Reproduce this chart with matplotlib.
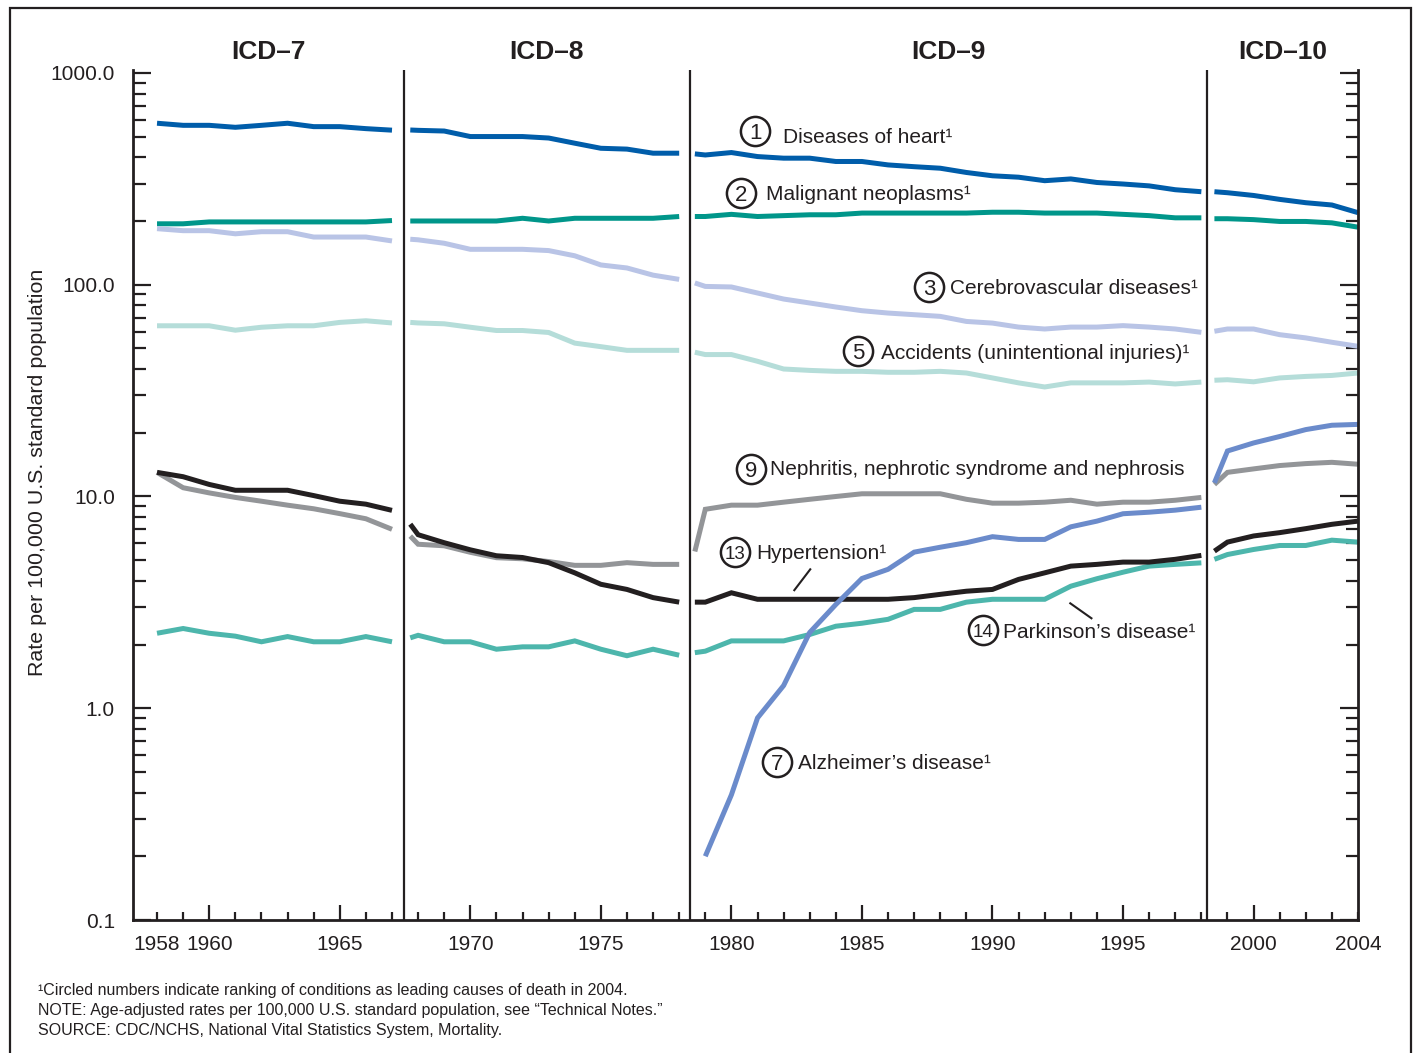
import numpy as np
import matplotlib
matplotlib.use('Agg')
import matplotlib.pyplot as plt
from matplotlib.ticker import FixedLocator, FuncFormatter, NullFormatter

plt.rcParams['font.family'] = ['Liberation Sans', 'DejaVu Sans']

# where the ICD coding revisions change
icd_breaks = [1967.45, 1978.4, 1998.2]
icd_names = ['ICD–7', 'ICD–8', 'ICD–9', 'ICD–10']

# years in each revision; later revisions pick up just after the break
years_icd7 = list(range(1958, 1968))
years_icd8 = [1967.7] + list(range(1968, 1979))
years_icd9 = [1978.6] + list(range(1979, 1999))
years_icd10 = [1998.5] + list(range(1999, 2005))
seg_years = [years_icd7, years_icd8, years_icd9, years_icd10]

nan = np.nan

# age-adjusted death rates, one list per revision
heart = [
    [579, 566, 566, 554, 566, 579, 558, 558, 546, 537],
    [538, 536, 532, 501, 501, 501, 493, 466, 441, 437, 418, 418],
    [415, 410, 421, 403, 396, 396, 382, 382, 368, 361, 355, 339, 327, 322, 310, 316, 304, 299, 293, 281, 275],
    [275, 272, 264, 253, 244, 238, 219],
]
cancer = [
    [194, 194, 198, 198, 198, 198, 198, 198, 198, 201],
    [200, 200, 200, 200, 200, 206, 200, 206, 206, 206, 206, 210],
    [210, 210, 215, 210, 212, 214, 214, 218, 218, 218, 218, 218, 220, 220, 218, 218, 218, 215, 212, 207, 207],
    [205, 205, 203, 199, 199, 196, 187],
]
stroke = [
    [184, 180, 180, 174, 178, 178, 168, 168, 168, 161],
    [164, 163, 157, 147, 147, 147, 145, 137, 124, 120, 111, 106],
    [102, 98.2, 97.6, 91.4, 85.6, 82, 78.5, 75.4, 73.5, 72.2, 70.9, 67.1, 65.9, 63.1, 61.8, 63.1, 63.1, 64.1, 63.1, 61.8, 59.6],
    [60.3, 61.8, 61.8, 58.1, 56.1, 53.5, 51.2],
]
accidents = [
    [64, 64, 64, 61, 63, 64, 64, 66.4, 67.6, 66],
    [66.4, 66, 65.4, 63, 60.8, 60.8, 59.5, 53, 51, 49, 49, 49],
    [48, 46.8, 46.8, 43.5, 40, 39.4, 39, 39, 38.6, 38.6, 39, 38.3, 36.3, 34.4, 32.9, 34.4, 34.4, 34.4, 34.7, 34, 34.7],
    [35.4, 35.6, 34.8, 36.3, 36.9, 37.3, 38.3],
]
nephritis = [
    [13.0, 11.0, 10.4, 9.9, 9.5, 9.1, 8.75, 8.3, 7.85, 7.0],
    [6.5, 5.95, 5.85, 5.45, 5.14, 5.08, 4.93, 4.73, 4.73, 4.87, 4.78, 4.78],
    [5.5, 8.7, 9.1, 9.1, 9.4, 9.7, 10.0, 10.3, 10.3, 10.3, 10.3, 9.7, 9.3, 9.3, 9.4, 9.6, 9.2, 9.4, 9.4, 9.6, 9.9],
    [11.4, 13.0, 13.5, 14.0, 14.3, 14.5, 14.2],
]
parkinson = [
    [2.26, 2.38, 2.26, 2.19, 2.06, 2.18, 2.06, 2.06, 2.18, 2.06],
    [2.15, 2.21, 2.06, 2.06, 1.90, 1.95, 1.95, 2.08, 1.90, 1.77, 1.90, 1.78],
    [1.83, 1.86, 2.08, 2.08, 2.08, 2.23, 2.44, 2.52, 2.63, 2.93, 2.93, 3.17, 3.27, 3.27, 3.27, 3.77, 4.09, 4.39, 4.69, 4.78, 4.86],
    [5.05, 5.32, 5.62, 5.87, 5.87, 6.22, 6.09],
]
hypertension = [
    [13.0, 12.4, 11.4, 10.7, 10.7, 10.7, 10.1, 9.5, 9.2, 8.6],
    [7.4, 6.6, 6.05, 5.6, 5.25, 5.15, 4.87, 4.36, 3.85, 3.64, 3.33, 3.17],
    [3.17, 3.17, 3.51, 3.27, 3.27, 3.27, 3.27, 3.27, 3.27, 3.33, 3.45, 3.57, 3.64, 4.06, 4.36, 4.69, 4.78, 4.9, 4.9, 5.05, 5.27],
    [5.52, 6.09, 6.51, 6.75, 7.05, 7.39, 7.65],
]
alzheimer = [
    None,
    None,
    [nan, 0.2, 0.39, 0.9, 1.28, 2.28, 3.09, 4.1, 4.53, 5.46, 5.76, 6.05, 6.46, 6.27, 6.27, 7.19, 7.65, 8.29, 8.43, 8.62, 8.9],
    [11.6, 16.4, 17.9, 19.2, 20.7, 21.7, 21.9],
]

series = [heart, cancer, stroke, accidents, nephritis, parkinson, hypertension, alzheimer]
colors = ['#005DAA', '#00968A', '#B9C4E6', '#B5DDD9', '#939598', '#4DB6AC', '#231F20', '#6B8BCB']

# circled rank, label, circle position, text position
labels = [
    ('1', 'Diseases of heart¹', (1980.91, 532), (1981.98, 494)),
    ('2', 'Malignant neoplasms¹', (1980.38, 272), (1981.33, 268)),
    ('3', 'Cerebrovascular diseases¹', (1987.58, 97.9), (1988.38, 95.7)),
    ('5', 'Accidents (unintentional injuries)¹', (1984.86, 48.9), (1985.74, 47.3)),
    ('9', 'Nephritis, nephrotic syndrome and nephrosis', (1980.76, 13.55), (1981.49, 13.4)),
    ('13', 'Hypertension¹', (1980.15, 5.44), (1980.95, 5.38)),
    ('14', 'Parkinson’s disease¹', (1989.65, 2.33), (1990.41, 2.28)),
    ('7', 'Alzheimer’s disease¹', (1981.75, 0.556), (1982.56, 0.55)),
]
leaders = [((1983.02, 4.53), (1982.41, 3.61)), ((1992.98, 3.13), (1993.79, 2.66))]

fig = plt.figure(figsize=(14.21, 10.53), dpi=100)
ax = fig.add_axes([133/1421, 1 - 920/1053, 1225/1421, 850/1053])

for vals, color in zip(series, colors):
    for yrs, v in zip(seg_years, vals):
        if v is None:
            continue
        ax.plot(yrs, v, color=color, lw=3.6, solid_capstyle='butt', solid_joinstyle='miter')

for b in icd_breaks:
    ax.axvline(b, color='#231F20', lw=1.6)

ax.set_yscale('log')
ax.set_xlim(1957.08, 2004)
ax.set_ylim(0.1, 1033)

edges = [1957.08] + icd_breaks + [2004]
for i, name in enumerate(icd_names):
    ax.text((edges[i] + edges[i+1]) / 2, 1.021, name, transform=ax.get_xaxis_transform(),
            ha='center', va='center', fontsize=19, fontweight='bold', color='#231F20')

for num, text, cpos, tpos in labels:
    ax.plot(*cpos, 'o', ms=21, mfc='white', mec='#231F20', mew=1.8)
    ax.text(*cpos, num, ha='center', va='center_baseline', fontsize=16 if len(num) == 1 else 13.5,
            color='#231F20')
    ax.text(*tpos, text, ha='left', va='center', fontsize=15, color='#231F20')
for p0, p1 in leaders:
    ax.plot([p0[0], p1[0]], [p0[1], p1[1]], color='#231F20', lw=1.5)

# axes styling
for side in ['left', 'bottom', 'right']:
    ax.spines[side].set_linewidth(2)
    ax.spines[side].set_color('#231F20')
ax.spines['top'].set_visible(False)

ax.yaxis.set_major_locator(FixedLocator([0.1, 1, 10, 100, 1000]))
ax.yaxis.set_major_formatter(FuncFormatter(lambda v, p: '%.1f' % v))
ax.yaxis.set_minor_locator(FixedLocator([m * 10.0**e for e in range(-1, 3) for m in range(2, 10)]))
ax.yaxis.set_minor_formatter(NullFormatter())

ax.xaxis.set_major_locator(FixedLocator(list(range(1960, 2001, 5))))
ax.xaxis.set_major_formatter(FuncFormatter(lambda v, p: str(int(round(v)))))
ax.xaxis.set_minor_locator(FixedLocator(list(range(1958, 2005))))
ax.xaxis.set_minor_formatter(FuncFormatter(lambda v, p: str(int(round(v))) if int(round(v)) in (1958, 2004) else ''))

ax.tick_params(axis='y', which='both', direction='in', left=True, right=True, width=1.6,
               colors='#231F20', labelsize=15, pad=13)
ax.tick_params(axis='y', which='major', length=13)
ax.tick_params(axis='y', which='minor', length=9)
ax.tick_params(axis='x', which='both', direction='in', width=1.6, colors='#231F20',
               labelsize=15, pad=11)
ax.tick_params(axis='x', which='major', length=11)
ax.tick_params(axis='x', which='minor', length=6)

ax.set_ylabel('Rate per 100,000 U.S. standard population', fontsize=15.4, color='#231F20')
ax.yaxis.set_label_coords(-0.0702, 0.527)

# footnotes
notes = [
    '¹Circled numbers indicate ranking of conditions as leading causes of death in 2004.',
    'NOTE: Age-adjusted rates per 100,000 U.S. standard population, see “Technical Notes.”',
    'SOURCE: CDC/NCHS, National Vital Statistics System, Mortality.',
]
for i, line in enumerate(notes):
    fig.text(38/1421, 1 - (991 + 19.5*i)/1053, line, ha='left', va='center', fontsize=11.5, color='#231F20')

# outer frame
fig.add_artist(plt.Rectangle((10/1421, -0.01), 1401/1421, 1.01 - 8/1053, transform=fig.transFigure,
                             fill=False, lw=1.6, edgecolor='#231F20'))

fig.savefig('out.png', dpi=100)
